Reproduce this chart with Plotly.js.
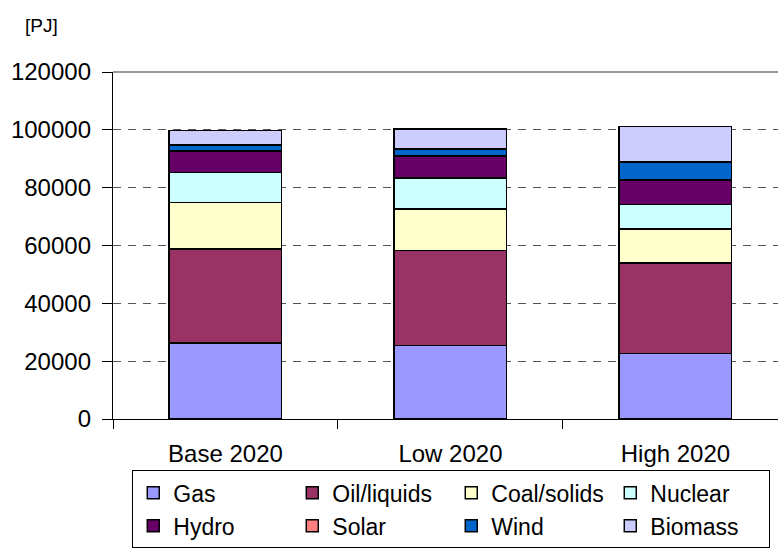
<!DOCTYPE html>
<html>
<head>
<meta charset="utf-8">
<script src="https://cdn.plot.ly/plotly-3.0.1.min.js"></script>
<style>
html,body{margin:0;padding:0;background:#fff;}
#chart{width:778px;height:551px;}
</style>
</head>
<body>
<div id="chart"></div>
<script>
const categories = ['Base 2020', 'Low 2020', 'High 2020'];
const gas = [26200, 25400, 22700];
const oil = [32600, 32800, 31200];
const coal = [16000, 14400, 11800];
const nuclear = [10400, 10700, 8400];
const hydro = [7500, 7500, 8400];
const solar = [100, 100, 200];
const wind = [1900, 2500, 6100];
const biomass = [5000, 6900, 12300];
const yTicks = [0, 20000, 40000, 60000, 80000, 100000, 120000];

const seriesNames = ['Gas', 'Oil/liquids', 'Coal/solids', 'Nuclear', 'Hydro', 'Solar', 'Wind', 'Biomass'];
const seriesData = [gas, oil, coal, nuclear, hydro, solar, wind, biomass];
const seriesColors = ['#9999FF', '#993366', '#FFFFCC', '#CCFFFF', '#660066', '#FF8080', '#0066CC', '#CCCCFF'];

const FONT = 'Liberation Sans, Arial, sans-serif';

const traces = seriesNames.map((n, i) => ({
  type: 'bar',
  name: n,
  x: categories,
  y: seriesData[i],
  width: 0.5,
  marker: {color: seriesColors[i], line: {color: '#000000', width: 1.5}},
  hoverinfo: 'x+y+name'
}));

const layout = {
  width: 778,
  height: 551,
  margin: {l: 113, r: 0, t: 72, b: 132, pad: 0},
  paper_bgcolor: '#ffffff',
  plot_bgcolor: '#ffffff',
  barmode: 'stack',
  font: {family: FONT, size: 24, color: '#000000'},
  showlegend: true,
  xaxis: {
    type: 'category',
    range: [-0.5, 2.456],
    showline: true, linecolor: '#000000', linewidth: 1.2,
    ticks: 'outside', ticklen: 9, tickcolor: '#000000', tickwidth: 1,
    tickson: 'boundaries',
    ticklabelstandoff: 13,
    tickfont: {family: FONT, size: 24, color: '#000000'},
    showgrid: false, zeroline: false, fixedrange: true, automargin: false
  },
  yaxis: {
    range: [0, 120000],
    tickvals: yTicks,
    ticktext: yTicks.map(String),
    showline: true, linecolor: '#000000', linewidth: 1.2,
    ticks: 'outside', ticklen: 10, tickcolor: '#000000', tickwidth: 1,
    ticklabelstandoff: 6,
    tickfont: {family: FONT, size: 24, color: '#000000'},
    showgrid: true, gridcolor: '#555555', gridwidth: 1, griddash: '8px,7px',
    zeroline: false, fixedrange: true, automargin: false
  },
  legend: {
    orientation: 'h',
    x: 0.029, xanchor: 'left',
    y: -0.148, yanchor: 'top',
    bordercolor: '#000000', borderwidth: 1,
    bgcolor: '#ffffff',
    entrywidth: 114, entrywidthmode: 'pixels',
    traceorder: 'normal',
    font: {family: FONT, size: 23, color: '#000000'}
  },
  shapes: [
    {type: 'line', xref: 'paper', yref: 'paper', x0: 0, x1: 1, y0: 1, y1: 1,
     line: {color: '#999999', width: 2}}
  ],
  annotations: [
    {text: '[PJ]', xref: 'paper', yref: 'paper', x: -0.108, y: 1.135,
     xanchor: 'center', yanchor: 'middle', showarrow: false,
     font: {family: FONT, size: 19, color: '#000000'}}
  ]
};

Plotly.newPlot('chart', traces, layout, {displayModeBar: false, staticPlot: true});
</script>
</body>
</html>
